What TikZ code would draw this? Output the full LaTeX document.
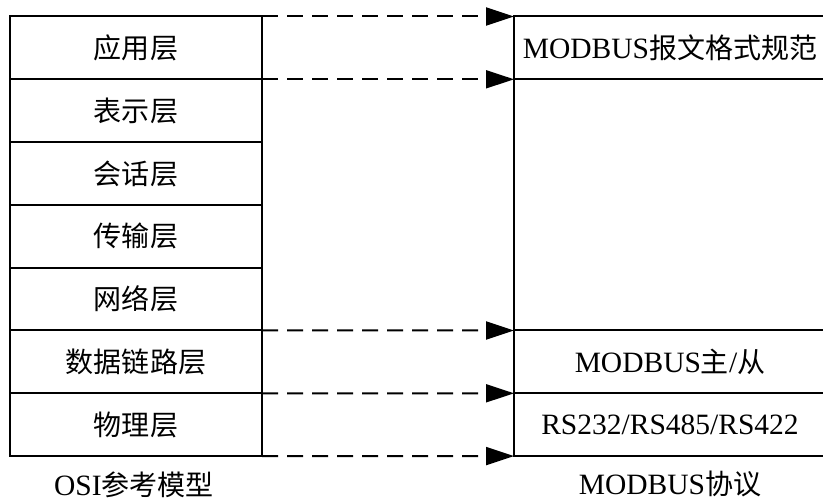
\documentclass[tikz,border=0pt]{standalone}
\usepackage{fontspec}
\setmainfont{Liberation Serif}
\newfontfamily\cjk[Scale=0.95]{Noto Sans CJK SC}
\usetikzlibrary{positioning,arrows.meta}

\begin{document}
\begin{tikzpicture}[x=1pt,y=1pt,
  layer/.style={draw,line width=2pt,minimum width=252pt,minimum height=62.8pt,
    inner sep=0pt,outer sep=0pt,font=\fontsize{29.5}{33}\selectfont},
  modbus/.style={layer,minimum width=312pt},
  caption/.style={font=\fontsize{29.5}{33}\selectfont,inner sep=0pt},
  mapto/.style={line width=2pt,dash pattern=on 16pt off 9pt,
    -{Triangle[length=28pt,width=18pt]}}]
\useasboundingbox (0,0) rectangle (823,-502);
% OSI model
\node[layer] (app) at (136,-47.9) {\cjk 应用层};
\node[layer,below=0pt of app] (pres) {\cjk 表示层};
\node[layer,below=0pt of pres] (sess) {\cjk 会话层};
\node[layer,below=0pt of sess] (trans) {\cjk 传输层};
\node[layer,below=0pt of trans] (net) {\cjk 网络层};
\node[layer,below=0pt of net] (link) {\cjk 数据链路层};
\node[layer,below=0pt of link] (phys) {\cjk 物理层};
\node[caption] (osi) at (134,-485) {OSI{\cjk 参考模型}};
% MODBUS
\node[modbus] (msg) at (670,-47.9) {MODBUS{\cjk 报文格式规范}};
\node[modbus,below=0pt of msg,minimum height=251.2pt] (empty) {};
\node[modbus,below=0pt of empty] (ms) {MODBUS{\cjk 主}/{\cjk 从}};
\node[modbus,below=0pt of ms] (rs) {RS232/RS485/RS422};
\node[caption] (mbp) at (670,-484) {MODBUS{\cjk 协议}};
% mappings
\draw[mapto] (app.north east) -- (msg.north west);
\draw[mapto] (app.south east) -- (msg.south west);
\draw[mapto] (net.south east) -- (ms.north west);
\draw[mapto] (link.south east) -- (rs.north west);
\draw[mapto] (phys.south east) -- (rs.south west);
\end{tikzpicture}
\end{document}
